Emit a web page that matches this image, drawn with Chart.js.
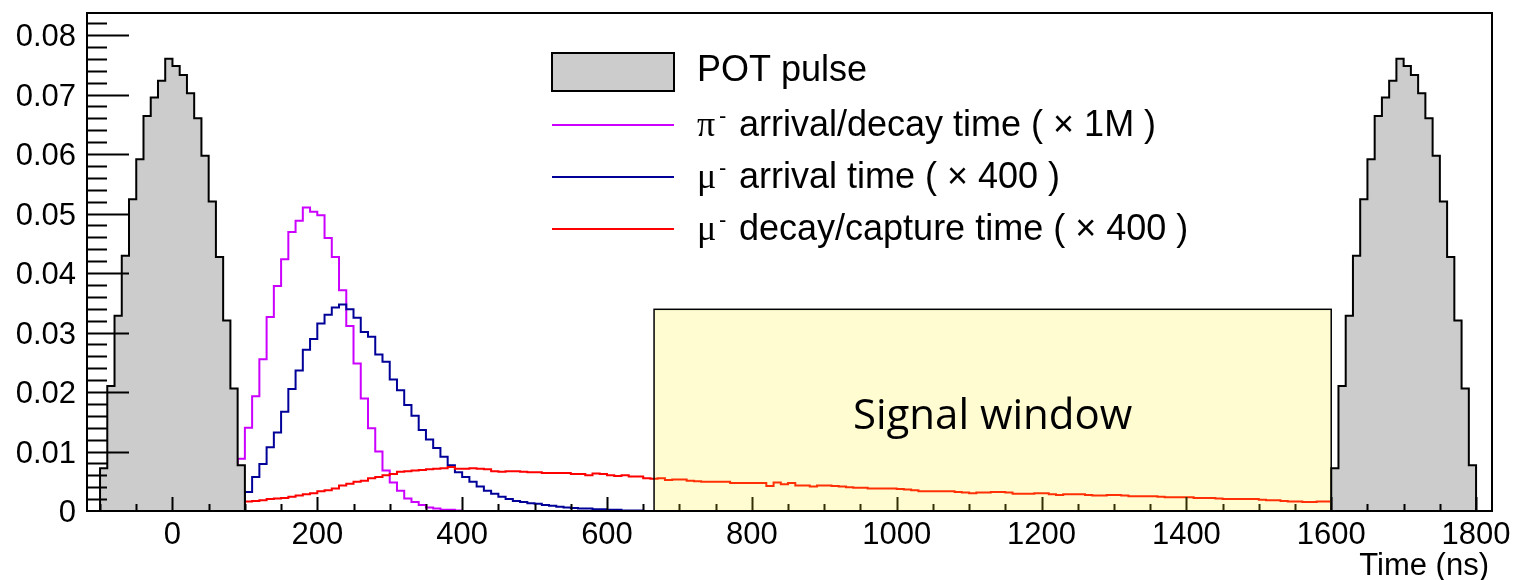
<!DOCTYPE html>
<html lang="en">
<head>
<meta charset="UTF-8">
<title>POT pulse and muon timing</title>
<script src="https://cdn.jsdelivr.net/npm/chart.js"></script>
<style>
    body { margin: 0; background: #fff; }
    #wrap { width: 1514px; height: 580px; }
</style>
</head>
<body>
<div id="wrap"><canvas id="timing" width="1514" height="580"></canvas></div>
<script>
// every histogram uses 10 ns bins
const binWidth = 10;

// proton pulse shape, repeated each cycle (low edge of first bin, ns)
const potStarts = [-100, 1600];
const potValues = [0.0072, 0.0210, 0.0328, 0.0429, 0.0524, 0.0591, 0.0664, 0.0695, 0.0723, 0.0760,
                   0.0748, 0.0733, 0.0702, 0.0660, 0.0597, 0.0520, 0.0427, 0.0320, 0.0206, 0.0077];

// pi- arrival/decay time (x 1M)
const pionStart = 90;
const pionValues = [0.0088, 0.0140, 0.0193, 0.0255, 0.0326, 0.0378, 0.0423, 0.0469, 0.0488, 0.0510,
                    0.0503, 0.0497, 0.0459, 0.0427, 0.0371, 0.0311, 0.0248, 0.0189, 0.0139, 0.0100,
                    0.0068, 0.0048, 0.0034, 0.0021, 0.0015, 0.0010, 0.0006, 0.0004, 0.0002, 0.0002,
                    0.0001];

// mu- arrival time (x 400)
const muArrivalStart = 100;
const muArrivalValues = [0.0032, 0.0057, 0.0079, 0.0107, 0.0132, 0.0167, 0.0205, 0.0236, 0.0271, 0.0289,
                         0.0315, 0.0330, 0.0342, 0.0347, 0.0339, 0.0325, 0.0301, 0.0293, 0.0263, 0.0251,
                         0.0221, 0.0203, 0.0178, 0.0160, 0.0136, 0.0120, 0.0106, 0.0091, 0.0077, 0.0065,
                         0.0057, 0.0049, 0.0041, 0.0034, 0.0029, 0.0024, 0.0020, 0.0017, 0.0015, 0.0013,
                         0.0012, 0.0010, 0.0009, 0.0007, 0.0006, 0.0005, 0.0004, 0.0004, 0.0003, 0.0003,
                         0.0002, 0.0002, 0.0001, 0.0001, 0.0001];

// mu- decay/capture time (x 400)
const muStopStart = 100;
const muStopValues = [0.0016, 0.0017, 0.0018, 0.0020, 0.0021, 0.0022, 0.0024, 0.0026, 0.0028, 0.0030,
                      0.0033, 0.0035, 0.0038, 0.0043, 0.0046, 0.0049, 0.0051, 0.0055, 0.0057, 0.0060,
                      0.0062, 0.0066, 0.0067, 0.0068, 0.0069, 0.0070, 0.0071, 0.0072, 0.0074, 0.0071,
                      0.0071, 0.0072, 0.0071, 0.0070, 0.0067, 0.0066, 0.0067, 0.0067, 0.0066, 0.0065,
                      0.0065, 0.0064, 0.0064, 0.0064, 0.0064, 0.0062, 0.0062, 0.0060, 0.0063, 0.0062,
                      0.0060, 0.0059, 0.0060, 0.0058, 0.0058, 0.0055, 0.0054, 0.0055, 0.0052, 0.0053,
                      0.0053, 0.0051, 0.0050, 0.0049, 0.0049, 0.0049, 0.0049, 0.0047, 0.0047, 0.0047,
                      0.0047, 0.0047, 0.0042, 0.0048, 0.0045, 0.0047, 0.0043, 0.0043, 0.0041, 0.0043,
                      0.0043, 0.0042, 0.0041, 0.0040, 0.0039, 0.0039, 0.0038, 0.0038, 0.0038, 0.0038,
                      0.0037, 0.0036, 0.0035, 0.0033, 0.0033, 0.0033, 0.0033, 0.0033, 0.0032, 0.0031,
                      0.0030, 0.0031, 0.0031, 0.0032, 0.0032, 0.0031, 0.0029, 0.0029, 0.0029, 0.0030,
                      0.0030, 0.0028, 0.0027, 0.0028, 0.0028, 0.0028, 0.0027, 0.0026, 0.0026, 0.0027,
                      0.0027, 0.0026, 0.0025, 0.0025, 0.0025, 0.0025, 0.0024, 0.0023, 0.0023, 0.0023,
                      0.0023, 0.0022, 0.0022, 0.0022, 0.0021, 0.0020, 0.0020, 0.0020, 0.0020, 0.0020,
                      0.0019, 0.0018, 0.0018, 0.0017, 0.0016, 0.0016, 0.0015, 0.0015, 0.0016, 0.0016];

// signal window box (ns, height)
const signalWindow = [665, 1600];
const signalTop = 0.0339;

// axes
const xRange = [-118, 1822];
const yRange = [0, 0.0837];
const xTickValues = [0, 200, 400, 600, 800, 1000, 1200, 1400, 1600, 1800];
const xTickLabels = ['0', '200', '400', '600', '800', '1000', '1200', '1400', '1600', '1800'];
const yTickValues = [0, 0.01, 0.02, 0.03, 0.04, 0.05, 0.06, 0.07, 0.08];
const yTickLabels = ['0', '0.01', '0.02', '0.03', '0.04', '0.05', '0.06', '0.07', '0.08'];
const xMinorStep = 50;
const yMinorStep = 0.002;

const legendLabels = ['POT pulse', 'arrival/decay time ( \u00d7 1M )', 'arrival time ( \u00d7 400 )', 'decay/capture time ( \u00d7 400 )'];
const legendSymbols = ['', '\u03c0', '\u03bc', '\u03bc'];

const SANS = '"Liberation Sans", Arial, Helvetica, sans-serif';

// turn bin contents into a stepped outline: up from 0, across each bin, back to 0
function histPoints(start, values) {
    const pts = [{ x: start, y: 0 }];
    values.forEach((v, i) => pts.push({ x: start + i * binWidth, y: v }));
    pts.push({ x: start + values.length * binWidth, y: 0 });
    return pts;
}

function histLine(label, start, values, color, order) {
    return {
        label: label,
        data: histPoints(start, values),
        borderColor: color,
        borderWidth: 2,
        stepped: 'before',
        pointRadius: 0,
        fill: false,
        order: order
    };
}

const datasets = [];
potStarts.forEach(s => datasets.push({
    label: 'POT pulse',
    data: histPoints(s, potValues),
    borderColor: '#000',
    backgroundColor: '#cccccc',
    borderWidth: 2,
    stepped: 'before',
    pointRadius: 0,
    fill: 'origin',
    order: 0
}));
datasets.push(histLine('mu decay', muStopStart, muStopValues, '#ff0000', 1));
datasets.push(histLine('mu arrival', muArrivalStart, muArrivalValues, '#000099', 2));
datasets.push(histLine('pi arrival', pionStart, pionValues, '#cc00ff', 3));

// ROOT style frame: ticks inside, box overlay, labels and legend
const rootFrame = {
    id: 'rootFrame',
    afterDatasetsDraw(chart) {
        const { ctx, chartArea: a, scales: { x, y } } = chart;
        ctx.save();
        ctx.strokeStyle = '#000';
        ctx.lineWidth = 2;
        ctx.beginPath();
        for (let v = Math.ceil(xRange[0] / xMinorStep) * xMinorStep; v <= xRange[1]; v += xMinorStep) {
            const px = Math.round(x.getPixelForValue(v)) + 0.5;
            const len = xTickValues.includes(v) ? 14 : 7;
            ctx.moveTo(px, a.bottom);
            ctx.lineTo(px, a.bottom - len);
        }
        const nMinor = Math.floor(yRange[1] / yMinorStep + 1e-6);
        for (let i = 1; i <= nMinor; i++) {
            const py = Math.round(y.getPixelForValue(i * yMinorStep)) + 0.5;
            const len = i % 5 === 0 ? 42 : 20;
            ctx.moveTo(a.left, py);
            ctx.lineTo(a.left + len, py);
        }
        ctx.stroke();

        // signal window, translucent so what is behind shows through
        const bx0 = x.getPixelForValue(signalWindow[0]);
        const bx1 = x.getPixelForValue(signalWindow[1]);
        const by0 = y.getPixelForValue(signalTop);
        const by1 = y.getPixelForValue(0);
        ctx.fillStyle = 'rgba(255, 240, 25, 0.2)';
        ctx.fillRect(bx0, by0, bx1 - bx0, by1 - by0);
        ctx.lineWidth = 1.5;
        ctx.strokeRect(bx0, by0, bx1 - bx0, by1 - by0);
        ctx.fillStyle = '#000';
        ctx.font = '42px "Open Sans", "Noto Sans", sans-serif';
        ctx.textAlign = 'center';
        ctx.textBaseline = 'alphabetic';
        ctx.fillText('Signal window', (bx0 + bx1) / 2, y.getPixelForValue(0.0138));

        // frame
        ctx.lineWidth = 2;
        ctx.strokeRect(a.left, a.top, a.right - a.left, a.bottom - a.top);
        ctx.restore();
    },
    afterDraw(chart) {
        const { ctx, chartArea: a, scales: { x, y } } = chart;
        ctx.save();
        ctx.fillStyle = '#000';
        ctx.font = '31px ' + SANS;
        ctx.textBaseline = 'alphabetic';
        ctx.textAlign = 'center';
        xTickValues.forEach((v, i) => ctx.fillText(xTickLabels[i], x.getPixelForValue(v), a.bottom + 33));
        ctx.textAlign = 'right';
        yTickValues.forEach((v, i) => ctx.fillText(yTickLabels[i], a.left - 11, y.getPixelForValue(v) + 11));
        ctx.fillText('Time (ns)', a.right - 3, 575);

        // legend
        const lx0 = 552, lx1 = 674, tx = 700;
        const rows = [72, 125, 177, 229];
        const colors = ['', '#cc00ff', '#000099', '#ff0000'];
        ctx.textAlign = 'left';
        rows.forEach((cy, i) => {
            if (i === 0) {
                ctx.fillStyle = '#cccccc';
                ctx.fillRect(lx0, cy - 19, lx1 - lx0, 38);
                ctx.strokeStyle = '#000';
                ctx.lineWidth = 2;
                ctx.strokeRect(lx0, cy - 19, lx1 - lx0, 38);
                ctx.fillStyle = '#000';
                ctx.font = '36px ' + SANS;
                ctx.fillText(legendLabels[0], tx - 3, cy + 9);
                return;
            }
            ctx.strokeStyle = colors[i];
            ctx.lineWidth = 2;
            ctx.beginPath();
            ctx.moveTo(lx0, cy);
            ctx.lineTo(lx1, cy);
            ctx.stroke();
            ctx.fillStyle = '#000';
            ctx.font = '36px "Liberation Serif", "DejaVu Serif", serif';
            ctx.fillText(legendSymbols[i], tx - 3, cy + 11);
            ctx.font = '22px ' + SANS;
            ctx.fillText('-', tx + 19, cy - 2);
            ctx.font = '36px ' + SANS;
            ctx.fillText(legendLabels[i], tx + 39, cy + 11);
        });
        ctx.restore();
    }
};

new Chart(document.getElementById('timing'), {
    type: 'line',
    data: { datasets: datasets },
    options: {
        responsive: false,
        animation: false,
        events: [],
        layout: { padding: { left: 87, right: 22, top: 13, bottom: 69 } },
        plugins: { legend: { display: false }, tooltip: { enabled: false } },
        scales: {
            x: { type: 'linear', min: xRange[0], max: xRange[1], display: false },
            y: { type: 'linear', min: yRange[0], max: yRange[1], display: false }
        }
    },
    plugins: [rootFrame]
});
</script>
</body>
</html>
